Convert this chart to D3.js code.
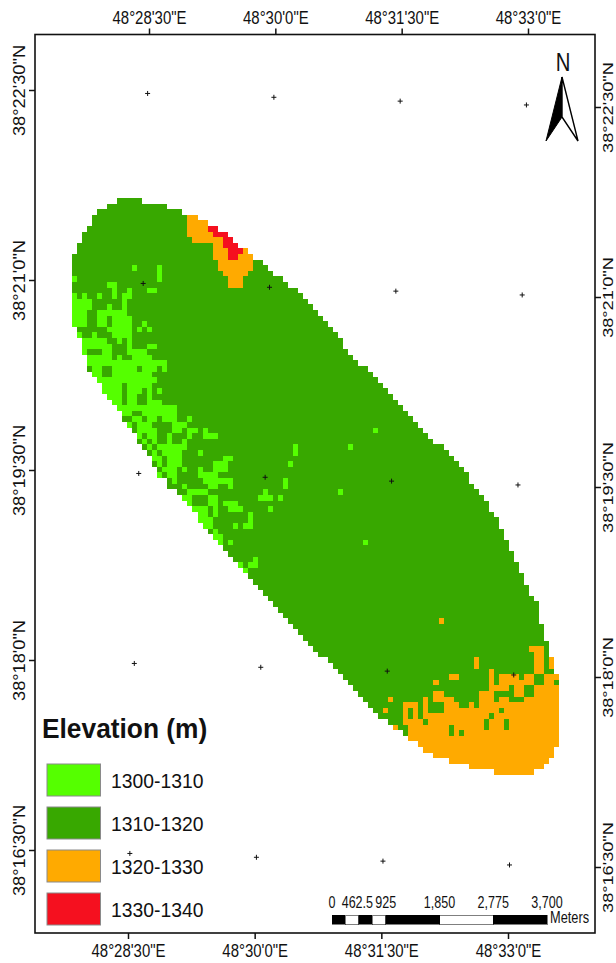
<!DOCTYPE html>
<html>
<head>
<meta charset="utf-8">
<script src="https://cdn.jsdelivr.net/npm/d3@7"></script>
<style>
html, body { margin: 0; padding: 0; background: #fff; }
svg { display: block; }
text { font-family: "Liberation Sans", Arial, sans-serif; fill: #111; }
</style>
</head>
<body>
<div id="map"></div>
<script>
// legend classes
var classNames = ["1300-1310", "1310-1320", "1320-1330", "1330-1340"];
var classColors = ["#55ff00", "#38a800", "#ffaa00", "#f5101f"];

// graticule, in minutes of arc
var lonTicks = [28.5, 30, 31.5, 33];
var latTicks = [22.5, 21, 19.5, 18, 16.5];

// raster outline: first and last+1 column of every row
var rowStart = [
  9,7,5,4,4,3,2,2,1,1,
  0,0,0,0,0,0,0,0,0,0,
  0,0,1,1,1,2,2,2,3,3,
  3,4,5,6,6,7,8,9,10,10,
  11,12,13,13,14,15,16,16,17,17,
  19,19,21,22,23,24,25,25,26,27,
  28,29,30,31,32,33,35,35,36,37,
  38,39,40,41,42,43,44,45,46,47,
  48,49,51,52,53,54,55,56,57,58,
  59,60,61,63,64,66,67,69,70,72,
  75,79,84
];
var rowEnd = [
  14,19,22,25,27,29,31,32,33,35,
  36,38,39,40,42,43,45,46,47,48,
  49,50,51,52,53,54,54,55,56,57,
  59,60,61,62,63,64,65,66,67,68,
  69,70,71,72,74,75,76,77,78,79,
  79,80,81,82,83,83,84,85,85,86,
  86,87,87,88,88,89,89,90,90,91,
  91,92,93,93,93,93,94,94,94,95,
  95,95,96,96,96,97,97,97,97,97,
  97,97,97,97,97,97,97,97,96,96,
  95,94,92
];

// cells of the other classes as [row, firstCol, lastCol+1]; the rest is 1310-1320
var lowRuns = [
  [12,12,13],[12,17,18],[13,17,18],[14,0,1],[14,17,18],[15,7,9],[16,8,9],[16,11,12],[16,15,17],
  [17,0,1],[17,2,3],[17,5,6],[17,8,9],[17,10,12],[18,0,4],[18,10,11],[19,0,4],[19,7,8],[19,10,11],
  [20,0,3],[20,5,11],[21,0,3],[21,5,7],[21,8,12],[22,0,3],[22,5,7],[22,8,12],[22,14,15],
  [23,7,12],[23,13,14],[23,15,16],[24,1,2],[24,4,5],[24,8,12],[25,2,7],[25,9,10],[25,11,12],
  [26,2,8],[26,11,12],[26,15,17],[27,2,3],[27,6,8],[27,11,15],[28,3,8],[28,9,10],[28,12,16],
  [29,3,19],[30,4,6],[30,8,13],[30,14,17],[30,18,19],[31,4,6],[31,8,16],[32,5,17],
  [33,6,10],[33,11,16],[34,6,10],[34,11,14],[34,15,16],[34,17,18],[35,7,10],[35,11,13],[35,15,16],
  [36,8,10],[36,11,13],[36,15,18],[37,9,21],[38,10,12],[38,14,21],
  [39,12,14],[39,15,17],[39,18,21],[39,23,24],[40,11,12],[40,13,16],[40,20,23],
  [41,13,17],[41,20,22],[41,23,25],[41,26,27],[41,60,61],
  [42,13,14],[42,15,17],[42,19,20],[42,23,24],[42,26,29],[43,14,15],[43,16,17],[43,19,20],[43,22,23],
  [44,15,16],[44,17,23],[44,44,45],[44,55,56],[45,16,17],[45,18,22],[45,25,26],[45,44,45],
  [46,16,18],[46,19,22],[46,30,32],[47,17,18],[47,19,22],[47,28,31],[47,43,44],
  [48,18,20],[48,20,21],[48,22,23],[48,25,26],[48,28,31],[49,17,18],[49,19,21],[49,25,29],
  [50,20,21],[50,26,29],[50,29,32],[50,42,43],[51,22,23],[51,27,29],[51,31,32],[51,42,43],
  [52,23,27],[52,38,39],[52,53,54],[53,22,24],[53,27,29],[53,37,40],[53,41,42],
  [54,23,24],[54,27,29],[54,30,33],[55,24,27],[55,28,29],[55,31,34],[55,39,40],
  [56,25,27],[56,28,29],[56,35,36],[57,25,28],[57,35,36],[58,26,28],[58,32,33],[58,34,36],
  [59,28,29],[60,28,30],[61,29,30],[61,31,32],[61,58,59],[64,36,37],[65,33,34],[65,35,37],[66,34,35]
];
var highRuns = [
  [3,23,25],[4,23,27],[5,23,27],[6,23,28],[7,24,30],[8,28,30],[9,28,31],[9,34,35],[10,28,31],[10,33,36],
  [11,29,36],[12,29,36],[13,30,35],[14,31,34],[15,31,34],
  [75,73,74],[80,91,94],[81,92,94],[82,80,81],[82,92,94],[82,95,96],[83,80,81],[83,92,94],[83,95,96],
  [84,83,84],[84,92,94],[85,75,77],[85,83,84],[85,85,89],[85,90,92],[85,94,97],
  [86,72,73],[86,83,84],[86,85,92],[86,94,96],[87,83,87],[87,88,90],[87,92,97],
  [88,72,74],[88,81,84],[88,88,90],[88,92,97],[89,63,64],[89,70,71],[89,72,76],[89,81,84],[89,85,87],[89,90,97],
  [90,66,69],[90,70,71],[90,74,77],[90,79,80],[90,81,85],[90,85,97],
  [91,62,63],[91,66,67],[91,68,69],[91,70,71],[91,74,85],[91,86,97],
  [92,66,67],[92,68,69],[92,70,83],[92,84,97],[93,66,70],[93,71,82],[93,83,86],[93,87,97],
  [94,64,65],[94,67,75],[94,76,82],[94,83,86],[94,87,97],[95,67,75],[95,76,77],[95,78,97],
  [96,67,97],[97,69,97],[98,70,96],[99,72,96],[100,75,95],[101,79,94],[102,84,92]
];
var topRuns = [[5,27,29],[6,28,31],[7,30,32],[8,30,33],[9,31,34],[10,31,33]];

// scale bar
var barLabels = [0, 462.5, 925, 1850, 2775, 3700];
var barBreaks = [0, 231.25, 462.5, 693.75, 925, 1850, 2775, 3700];

var width = 616, height = 963;
var frame = { left: 35, top: 34.5, right: 595, bottom: 933 };

var svg = d3.select("#map").append("svg").attr("width", width).attr("height", height);

// squeeze text sideways, the picture was stretched when it was exported
function squeeze(sel, k) {
  sel.each(function() {
    var len = this.getComputedTextLength();
    d3.select(this).attr("textLength", len * k).attr("lengthAdjust", "spacingAndGlyphs");
  });
}

var colScale = d3.scaleLinear().domain([0, 97]).range([72, 559]);
var rowScale = d3.scaleLinear().domain([0, 103]).range([198, 775]);

var raster = svg.append("g").attr("shape-rendering", "crispEdges");

function drawRuns(runs, cls) {
  raster.append("g").selectAll("rect").data(runs).enter().append("rect")
    .attr("x", function(d) { return colScale(d[1]); })
    .attr("y", function(d) { return rowScale(d[0]); })
    .attr("width", function(d) { return colScale(d[2]) - colScale(d[1]); })
    .attr("height", function(d) { return rowScale(d[0] + 1) - rowScale(d[0]); })
    .attr("fill", classColors[cls]);
}

drawRuns(rowStart.map(function(d, i) { return [i, d, rowEnd[i]]; }), 1);
drawRuns(lowRuns, 0);
drawRuns(highRuns, 2);
drawRuns(topRuns, 3);

// axes
var lonTop = d3.scaleLinear().domain([28.5, 33]).range([149, 528]);
var lonBottom = d3.scaleLinear().domain([28.5, 33]).range([128, 508]);
var latLeft = d3.scaleLinear().domain([22.5, 16.5]).range([90, 850]);
var latRight = d3.scaleLinear().domain([22.5, 16.5]).range([107, 867]);

function dms(deg, m, suffix) {
  var whole = Math.floor(m);
  return deg + "°" + whole + "'" + Math.round((m - whole) * 60) + '"' + suffix;
}
function lonFormat(m) { return dms(48, m, "E"); }
function latFormat(m) { return dms(38, m, "N"); }

function styleAxis(g) {
  g.select(".domain").remove();
  g.selectAll(".tick line").attr("stroke", "#111").attr("stroke-width", 1.5);
  g.selectAll("text").attr("font-size", 17).attr("font-family", "Liberation Sans").attr("fill", "#111");
}

var axTop = svg.append("g").attr("transform", "translate(0," + frame.top + ")")
  .call(d3.axisTop(lonTop).tickValues(lonTicks).tickFormat(lonFormat).tickSize(6).tickPadding(5))
  .call(styleAxis);
var axBottom = svg.append("g").attr("transform", "translate(0," + frame.bottom + ")")
  .call(d3.axisBottom(lonBottom).tickValues(lonTicks).tickFormat(lonFormat).tickSize(6).tickPadding(5))
  .call(styleAxis);
axTop.selectAll("text").attr("font-size", 18).call(squeeze, 0.83);
axBottom.selectAll("text").attr("font-size", 18).call(squeeze, 0.83);

var axLeft = svg.append("g").attr("transform", "translate(" + frame.left + ",0)")
  .call(d3.axisLeft(latLeft).tickValues(latTicks).tickFormat(latFormat).tickSize(6))
  .call(styleAxis);
axLeft.selectAll("text").attr("transform", "rotate(-90)")
  .attr("x", 0).attr("y", -10).attr("dy", 0).attr("text-anchor", "middle").call(squeeze, 1.07);

var axRight = svg.append("g").attr("transform", "translate(" + frame.right + ",0)")
  .call(d3.axisRight(latRight).tickValues(latTicks).tickFormat(latFormat).tickSize(6))
  .call(styleAxis);
// the right labels run off the sheet in the original, keep them narrow so they fit
axRight.selectAll("text").attr("font-size", 15).attr("transform", "rotate(-90)")
  .attr("x", 0).attr("y", 17.5).attr("dy", 0).attr("text-anchor", "middle").call(squeeze, 1.21);

svg.append("rect")
  .attr("x", frame.left).attr("y", frame.top)
  .attr("width", frame.right - frame.left).attr("height", frame.bottom - frame.top)
  .attr("fill", "none").attr("stroke", "#111").attr("stroke-width", 1.6);

// graticule crosses, the grid leans a little
var crosses = [];
latTicks.forEach(function(lat) {
  lonTicks.forEach(function(lon) {
    var y0 = latLeft(lat) + (latRight(lat) - latLeft(lat)) * (lonTop(lon) - frame.left) / (frame.right - frame.left);
    var x = lonTop(lon) + (lonBottom(lon) - lonTop(lon)) * (y0 - frame.top) / (frame.bottom - frame.top);
    crosses.push([x, y0]);
  });
});
svg.append("g").selectAll("path").data(crosses).enter().append("path")
  .attr("d", function(d) {
    return "M" + (d[0] - 2.5) + "," + d[1] + "h5M" + d[0] + "," + (d[1] - 2.5) + "v5";
  })
  .attr("stroke", "#111").attr("stroke-width", 1).attr("fill", "none");

// legend
svg.append("text").attr("x", 42).attr("y", 738)
  .attr("font-size", 28).attr("font-weight", "bold").attr("fill", "#000")
  .text("Elevation (m)").call(squeeze, 0.94);

var legendY = d3.scalePoint().domain(classNames).range([764, 893]);
var legend = svg.append("g").selectAll("g").data(classNames).enter().append("g")
  .attr("transform", function(d) { return "translate(47," + legendY(d) + ")"; });
legend.append("rect")
  .attr("width", 53.5).attr("height", 32)
  .attr("fill", function(d, i) { return classColors[i]; })
  .attr("stroke", "#8a8a8a").attr("stroke-width", 1);
legend.append("text").attr("x", 64).attr("y", 24)
  .attr("font-size", 21).text(function(d) { return d; }).call(squeeze, 0.92);

// scale bar
var barScale = d3.scaleLinear().domain([0, 3700]).range([332, 547]);
svg.append("g").attr("shape-rendering", "crispEdges").selectAll("rect").data(d3.pairs(barBreaks)).enter().append("rect")
  .attr("x", function(d) { return barScale(d[0]); })
  .attr("y", 915)
  .attr("width", function(d) { return barScale(d[1]) - barScale(d[0]); })
  .attr("height", 9)
  .attr("fill", function(d, i) { return i % 2 ? "#fff" : "#000"; })
  .attr("stroke", "#000").attr("stroke-width", 0.5);
svg.append("g").selectAll("text").data(barLabels).enter().append("text")
  .attr("x", function(d) { return barScale(d) + (d === 462.5 ? -1.5 : 0); })
  .attr("y", 908).attr("text-anchor", "middle").attr("font-size", 16.5)
  .text(function(d) { return d === 462.5 ? "462.5" : d3.format(",")(d); })
  .call(squeeze, 0.76);
svg.append("text").attr("x", 550).attr("y", 923).attr("font-size", 16)
  .text("Meters").call(squeeze, 0.8);

// north arrow
svg.append("text").attr("x", 563).attr("y", 71).attr("text-anchor", "middle")
  .attr("font-size", 26).text("N").call(squeeze, 0.78);
svg.append("path").attr("d", "M562,77L546,141L562,117Z").attr("fill", "#000").attr("stroke", "#000");
svg.append("path").attr("d", "M562,77L578,141L562,117Z").attr("fill", "#fff").attr("stroke", "#000").attr("stroke-width", 1.4);
</script>
</body>
</html>
